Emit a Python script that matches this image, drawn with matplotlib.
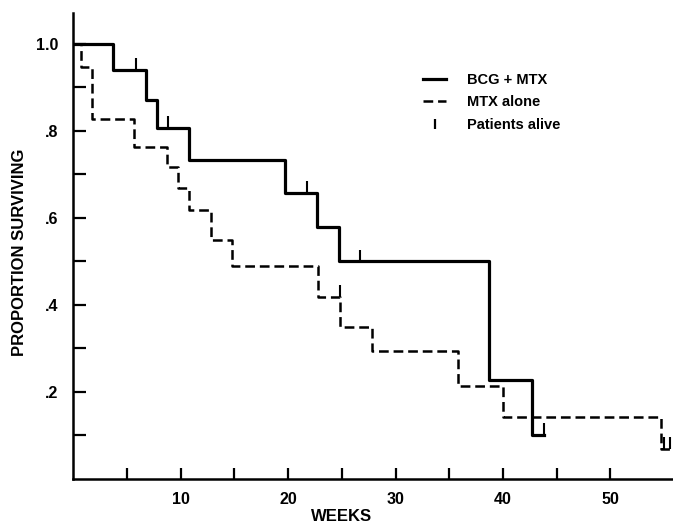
import matplotlib
matplotlib.use("Agg")
import matplotlib.pyplot as plt
from matplotlib.lines import Line2D

plt.rcParams['font.family'] = ['Liberation Sans', 'DejaVu Sans']
plt.rcParams['font.weight'] = 'bold'
plt.rcParams['lines.scale_dashes'] = False

# BCG + MTX (solid) Kaplan-Meier steps
bcg_weeks = [0, 3.7, 6.75, 7.75, 10.8, 19.7, 22.7, 24.7, 38.7, 42.7, 43.8]
bcg_surv = [1.0, 0.94, 0.872, 0.807, 0.734, 0.657, 0.58, 0.5, 0.227, 0.101, 0.101]
bcg_censor_weeks = [5.85, 8.8, 21.8, 26.7, 43.8]
bcg_censor_surv = [0.94, 0.807, 0.657, 0.5, 0.101]

# MTX alone (dashed)
mtx_weeks = [0, 0.7, 1.77, 5.65, 8.7, 9.72, 10.8, 12.8, 14.8, 22.75, 24.8, 27.85, 35.8, 40.0, 54.7, 55.6]
mtx_surv = [1.0, 0.948, 0.827, 0.764, 0.718, 0.668, 0.618, 0.549, 0.49, 0.418, 0.35, 0.294, 0.214, 0.143, 0.07, 0.07]
mtx_censor_weeks = [24.8, 55.0, 55.55]
mtx_censor_surv = [0.418, 0.07, 0.07]

x_ticks = [5, 10, 15, 20, 25, 30, 35, 40, 45, 50]
x_tick_labels = ['', '10', '', '20', '', '30', '', '40', '', '50']
y_ticks = [0.1, 0.2, 0.3, 0.4, 0.5, 0.6, 0.7, 0.8, 0.9, 1.0]
y_tick_labels = ['', '.2', '', '.4', '', '.6', '', '.8', '', '1.0']

legend_labels = ['BCG + MTX', 'MTX alone', 'Patients alive']

W, H = 673, 525
fig = plt.figure(figsize=(W / 100, H / 100), dpi=100)
ax = fig.add_axes([73.3 / W, 1 - 479 / H, 599.3 / W, 466 / H])

ax.step(bcg_weeks, bcg_surv, where='post', color='black', lw=2.3)
ax.step(mtx_weeks, mtx_surv, where='post', color='black', lw=1.8, dashes=(7, 3.5))

tick_h = 0.027
ax.vlines(bcg_censor_weeks, bcg_censor_surv, [s + tick_h for s in bcg_censor_surv], color='black', lw=1.5)
ax.vlines(mtx_censor_weeks, mtx_censor_surv, [s + tick_h for s in mtx_censor_surv], color='black', lw=1.5)

ax.set_xlim(0, 55.8)
ax.set_ylim(0, 1.071)
for s in ['top', 'right']:
    ax.spines[s].set_visible(False)
for s in ['left', 'bottom']:
    ax.spines[s].set_linewidth(1.8)

ax.set_xticks(x_ticks)
ax.set_xticklabels(x_tick_labels)
ax.set_yticks(y_ticks)
ax.set_yticklabels(y_tick_labels)
ax.tick_params(axis='x', direction='in', length=8, width=1.6, pad=9, labelsize=11.5)
ax.tick_params(axis='y', direction='in', length=9, width=1.6, pad=11, labelsize=11.5)
for lab in ax.get_xticklabels() + ax.get_yticklabels():
    lab.set_fontweight('bold')

ax.set_ylabel('PROPORTION SURVIVING', fontsize=12, fontweight='bold')
ax.yaxis.set_label_coords(-0.0906, 0.487)
ax.set_xlabel('WEEKS', fontsize=12, fontweight='bold')
ax.xaxis.set_label_coords(0.447, -0.0815)
ax.xaxis.label.set_va('center')
ax.yaxis.label.set_va('center')

handles = [
    Line2D([], [], color='black', lw=2.3),
    Line2D([], [], color='black', lw=1.8, dashes=(7, 3.5)),
    Line2D([], [], color='black', marker='|', linestyle='None', markersize=7, markeredgewidth=1.6),
]
leg = ax.legend(handles, legend_labels, loc='upper left', frameon=False,
                bbox_to_anchor=(423 / W, 1 - 73 / H), bbox_transform=fig.transFigure,
                borderpad=0, borderaxespad=0, handlelength=1.6, handletextpad=1.4,
                labelspacing=0.58, prop={'weight': 'bold', 'size': 10.5})

fig.savefig('out.png', dpi=100)
